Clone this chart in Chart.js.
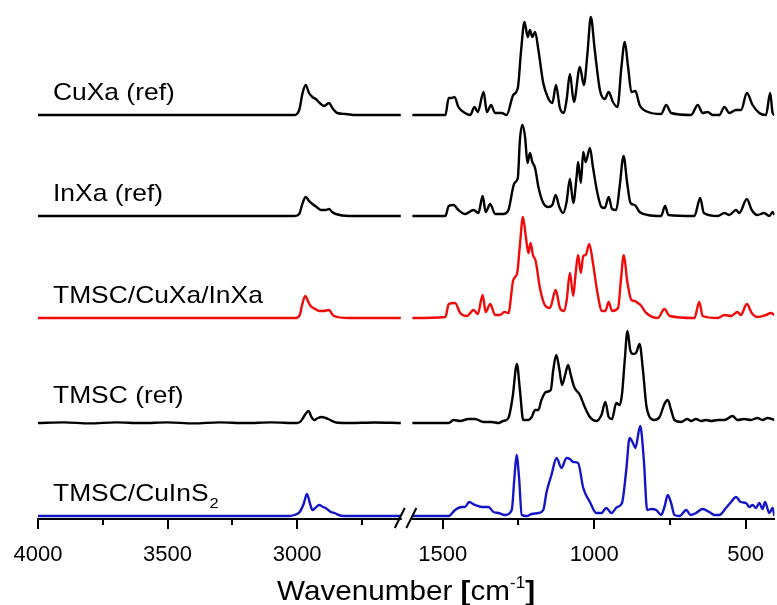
<!DOCTYPE html>
<html>
<head>
<meta charset="utf-8">
<script src="https://cdn.jsdelivr.net/npm/chart.js@4.4.1/dist/chart.umd.min.js"></script>
<style>
html,body{margin:0;padding:0;background:#fff;overflow:hidden;}
#wrap{width:777px;height:605px;position:relative;}
</style>
</head>
<body>
<div id="wrap"><canvas id="c"></canvas></div>
<script>
// ---------- DATA (wavenumber in cm-1, absorbance in arbitrary units) ----------
const seriesNames = ["CuXa (ref)", "InXa (ref)", "TMSC/CuXa/InXa", "TMSC (ref)", "TMSC/CuInS2"];
const seriesColors = ["#000000", "#000000", "#f00a0a", "#000000", "#1515c8"];
const seriesOffsets = [401, 300, 198, 93, 0];

const majorTicks = [4000, 3500, 3000, 1500, 1000, 500];
const majorTickLabels = ["4000", "3500", "3000", "1500", "1000", "500"];
const minorTicks = [3750, 3250, 2750, 1250, 750];

const segLeft = [4000, 2600];
const segRight = [1600, 405];

// CuXa (ref)
const cuxaLeftWn  = [4000,3012,2992,2979,2967,2954,2941,2928,2913,2896,2877,2864,2845,2813,2774,2600];
const cuxaLeftAbs = [0,0,5,22,30,22,18,16,12,9,12,7,2,1,0,0];
const cuxaRightWn  = [1600,1491,1480,1470,1461,1448,1426,1409,1395,1384,1365,1354,1340,1327,1305,1289,1267,1252,1241,1230,1219,1212,1204,1195,1184,1168,1152,1138,1126,1113,1100,1091,1080,1067,1047,1034,1022,1011,998,981,965,952,938,923,910,899,888,877,864,850,822,779,762,746,680,658,642,625,609,587,570,554,532,515,496,477,455,433,419,411,405];
const cuxaRightAbs = [0,0,17,17,18,8,2,0,8,3,23,3,10,2,2,0,20,27,65,93,78,85,78,83,65,32,17,12,30,7,2,15,41,13,48,30,62,98,65,25,16,23,13,8,48,73,48,23,24,10,3,1,10,2,0,10,2,3,0,0,8,2,5,5,22,10,2,0,22,2,0];

// InXa (ref)
const inxaLeftWn  = [4000,3010,2992,2980,2967,2954,2941,2925,2909,2890,2877,2865,2851,2800,2600];
const inxaLeftAbs = [0,0,2,12,19,15,12,9,6,6,7,4,2,0,0];
const inxaRightWn  = [1600,1491,1480,1464,1448,1426,1398,1382,1368,1358,1343,1327,1300,1283,1263,1252,1245,1237,1228,1220,1212,1204,1195,1184,1168,1152,1138,1127,1115,1102,1091,1080,1069,1058,1053,1044,1036,1028,1014,1004,990,976,965,952,941,927,916,903,891,880,866,850,823,779,766,755,669,650,638,592,570,554,532,521,496,480,461,439,422,411,405];
const inxaRightAbs = [0,0,10,11,6,2,6,3,20,4,12,2,2,6,33,38,76,91,79,53,63,54,48,29,13,9,11,21,9,3,14,37,13,39,54,33,64,54,68,49,24,9,8,19,7,6,29,60,33,13,11,4,1,0,10,1,0,18,3,0,3,1,6,3,17,6,1,3,0,4,1];

// TMSC/CuXa/InXa
const hybLeftWn  = [4000,3005,2990,2980,2969,2955,2948,2930,2915,2900,2877,2865,2858,2800,2600];
const hybLeftAbs = [0,0,3,14,22,15,12,9,7,7,8,4,2,0,0];
const hybRightWn  = [1600,1491,1480,1459,1442,1420,1398,1384,1368,1358,1343,1327,1311,1296,1283,1267,1254,1245,1235,1225,1217,1210,1202,1193,1179,1163,1146,1127,1113,1100,1091,1080,1069,1061,1053,1044,1036,1028,1016,1004,989,974,963,952,941,921,912,902,891,877,866,856,847,828,790,768,751,669,653,642,592,570,548,527,516,496,480,461,433,417,405];
const hybRightAbs = [0,1,14,15,5,2,8,4,23,6,14,3,3,6,5,38,45,73,101,80,65,75,63,57,30,13,10,28,10,7,17,45,22,45,63,45,62,63,74,55,25,7,7,16,7,10,37,63,37,18,17,15,13,5,0,9,2,0,16,2,0,3,2,6,3,14,5,1,3,5,3];

// TMSC (ref)
const tmscLeftWn  = [4000,3900,3800,3700,3600,3500,3400,3300,3200,3100,3000,2985,2970,2956,2945,2935,2920,2905,2890,2880,2865,2850,2800,2700,2600];
const tmscLeftAbs = [0,0.6,-0.4,0.6,0,0.6,-0.4,0.6,0,0.6,0,2,8,12,6,3,5,6,5,4,2,0.5,0,0.5,0];
const tmscRightWn  = [1600,1480,1464,1442,1415,1393,1365,1338,1316,1300,1283,1269,1255,1245,1234,1217,1206,1195,1184,1174,1159,1143,1135,1125,1115,1106,1095,1086,1077,1066,1047,1031,1014,993,976,963,952,941,927,916,908,899,890,881,872,862,850,839,828,817,801,784,768,757,746,735,713,693,680,664,647,631,614,592,570,543,527,505,483,461,444,428,405];
const tmscRightAbs = [0,0,3,2,4,4,1,1,0,2,5,26,59,33,3,3,6,13,13,23,31,33,53,68,54,38,49,58,48,36,28,16,6,2,8,21,6,4,20,18,29,63,92,73,69,70,79,53,18,6,3,6,19,23,13,3,1,4,2,4,2,3,2,3,3,7,3,4,3,5,3,5,3];

// TMSC/CuInS2
const cisLeftWn  = [4000,3030,3011,2990,2975,2962,2950,2941,2930,2915,2900,2890,2870,2855,2840,2820,2600];
const cisLeftAbs = [0,0,1,4,12,22,12,6,8,11,9,8,4,3,1,0,0];
const cisRightWn  = [1600,1480,1459,1437,1426,1413,1393,1371,1349,1332,1316,1294,1272,1263,1256,1248,1239,1223,1206,1184,1168,1157,1141,1124,1108,1091,1080,1069,1053,1036,1014,993,976,960,943,924,908,894,883,872,864,848,836,825,812,795,779,768,757,746,735,718,696,682,664,642,620,603,587,565,548,532,516,499,488,477,466,455,444,436,422,411,405];
const cisRightAbs = [0,0,6,9,9,14,11,9,9,4,3,1,6,39,61,39,1,0,2,3,6,24,41,58,48,58,57,54,53,28,14,3,3,8,3,9,13,46,78,73,68,90,56,6,7,6,1,9,21,13,1,0,6,1,3,7,4,1,1,8,14,19,14,13,9,11,8,13,7,14,3,8,0];

const allLeftWn   = [cuxaLeftWn, inxaLeftWn, hybLeftWn, tmscLeftWn, cisLeftWn];
const allLeftAbs  = [cuxaLeftAbs, inxaLeftAbs, hybLeftAbs, tmscLeftAbs, cisLeftAbs];
const allRightWn  = [cuxaRightWn, inxaRightWn, hybRightWn, tmscRightWn, cisRightWn];
const allRightAbs = [cuxaRightAbs, inxaRightAbs, hybRightAbs, tmscRightAbs, cisRightAbs];

// ---------- broken axis mapping (wavenumber -> axis coordinate) ----------
const LEFT_SCALE = 0.26, RIGHT_SCALE = 0.304, RIGHT_ORIGIN = 406;
function u(w) {
  return w >= 2100 ? (4000 - w) * LEFT_SCALE : RIGHT_ORIGIN + (1500 - w) * RIGHT_SCALE;
}

const datasets = seriesNames.map((name, i) => {
  const pts = [];
  allLeftWn[i].forEach((w, k) => pts.push({x: u(w), y: allLeftAbs[i][k] + seriesOffsets[i]}));
  pts.push({x: (u(segLeft[1]) + u(segRight[0])) / 2, y: null});
  allRightWn[i].forEach((w, k) => pts.push({x: u(w), y: allRightAbs[i][k] + seriesOffsets[i]}));
  return {
    label: name, data: pts, borderColor: seriesColors[i], borderWidth: 2.4,
    pointRadius: 0, fill: false, spanGaps: false, cubicInterpolationMode: 'monotone'
  };
});

const FONT = "'Liberation Sans', Arial, Helvetica, sans-serif";

const decor = {
  id: 'decor',
  afterDraw(chart) {
    const ctx = chart.ctx, xs = chart.scales.x;
    const y0 = chart.chartArea.bottom;
    ctx.save();
    ctx.strokeStyle = '#000'; ctx.lineWidth = 2;
    // minor ticks
    minorTicks.forEach(w => {
      const px = Math.round(xs.getPixelForValue(u(w)));
      ctx.beginPath(); ctx.moveTo(px, y0); ctx.lineTo(px, y0 + 6); ctx.stroke();
    });
    // axis break
    const bl = xs.getPixelForValue(u(segLeft[1])), br = xs.getPixelForValue(u(segRight[0]));
    ctx.fillStyle = '#fff';
    ctx.fillRect(bl + 1, y0 - 4, br - bl - 2, 8);
    [bl - 1, br - 1].forEach(cx => {
      ctx.beginPath(); ctx.moveTo(cx - 5, y0 + 9); ctx.lineTo(cx + 5, y0 - 11); ctx.stroke();
    });
    // spectrum labels
    const labelBase = [100, 201, 303, 403, 501];
    ctx.fillStyle = '#000';
    ctx.textBaseline = 'alphabetic';
    ctx.textAlign = 'left';
    seriesNames.forEach((name, i) => {
      ctx.save();
      ctx.translate(53, labelBase[i]);
      ctx.scale(1.1, 1);
      ctx.font = '24px ' + FONT;
      if (name === 'TMSC/CuInS2') {
        const main = 'TMSC/CuInS';
        ctx.fillText(main, 0, 0);
        const wm = ctx.measureText(main).width;
        ctx.font = '15px ' + FONT;
        ctx.fillText('2', wm + 1, 7);
      } else {
        ctx.fillText(name, 0, 0);
      }
      ctx.restore();
    });
    // axis title with superscript
    ctx.save();
    const parts = [
      {t: 'Wavenumber ', f: '28px ' + FONT, dy: 0},
      {t: '[', f: 'bold 28px ' + FONT, dy: 0},
      {t: 'cm', f: '28px ' + FONT, dy: 0},
      {t: '-1', f: '16px ' + FONT, dy: -12},
      {t: ']', f: 'bold 28px ' + FONT, dy: 0}
    ];
    const sx = 1.06;
    let total = 0;
    parts.forEach(p => { ctx.font = p.f; p.w = ctx.measureText(p.t).width; total += p.w; });
    ctx.translate(406 - total * sx / 2, 600);
    ctx.scale(sx, 1);
    let x = 0;
    parts.forEach(p => { ctx.font = p.f; ctx.fillText(p.t, x, p.dy); x += p.w; });
    ctx.restore();
    ctx.restore();
  }
};

new Chart(document.getElementById('c'), {
  type: 'line',
  data: { datasets },
  options: {
    responsive: true, maintainAspectRatio: false, animation: false,
    layout: { padding: { left: 38, right: 0, top: 0, bottom: 0 } },
    plugins: { legend: { display: false }, tooltip: { enabled: false } },
    events: [],
    scales: {
      x: {
        type: 'linear', min: 0, max: u(segRight[1]),
        afterBuildTicks: (scale) => { scale.ticks = majorTicks.map(w => ({ value: u(w) })); },
        afterFit: (scale) => { scale.height = 86; },
        ticks: {
          autoSkip: false, maxRotation: 0, minRotation: 0, padding: 13,
          color: '#000', font: { family: FONT, size: 22 },
          callback: (val, idx) => majorTickLabels[idx]
        },
        grid: { drawOnChartArea: false, drawTicks: true, tickLength: 10, color: '#000', lineWidth: 2 },
        border: { display: true, color: '#000', width: 2 }
      },
      y: { display: false, min: -3, max: 516 }
    }
  },
  plugins: [decor]
});
</script>
</body>
</html>
